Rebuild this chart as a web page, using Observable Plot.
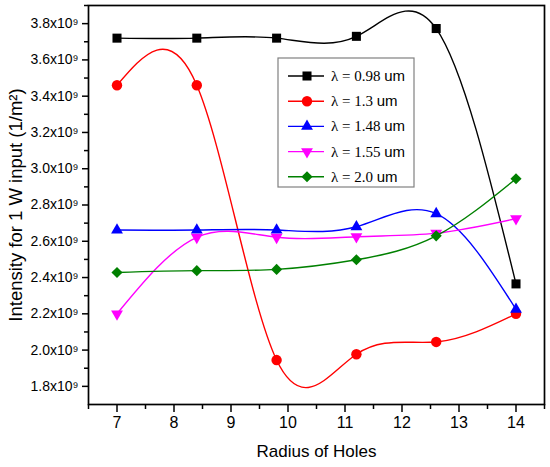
<!DOCTYPE html>
<html><head><meta charset="utf-8">
<script src="https://cdn.jsdelivr.net/npm/d3@7"></script>
<script src="https://cdn.jsdelivr.net/npm/@observablehq/plot@0.6"></script>
<style>body{margin:0;background:#fff}</style>
</head><body><div id="chart"></div>
<script>
// ---- data ----
const radius = [7, 8.4, 9.8, 11.2, 12.6, 14];
const lambda098 = [3.72, 3.72, 3.72, 3.73, 3.773, 2.365];
const lambda130 = [3.46, 3.46, 1.945, 1.977, 2.045, 2.20];
const lambda148 = [2.662, 2.662, 2.662, 2.68, 2.752, 2.225];
const lambda155 = [2.20, 2.622, 2.622, 2.625, 2.645, 2.725];
const lambda200 = [2.428, 2.438, 2.445, 2.498, 2.63, 2.945];
const seriesNames = ["λ = 0.98", "λ = 1.3", "λ = 1.48", "λ = 1.55", "λ = 2.0"];
const seriesUnit = "um";
const xTicks = [7, 8, 9, 10, 11, 12, 13, 14];
const xMinorTicks = [6.5, 7.5, 8.5, 9.5, 10.5, 11.5, 12.5, 13.5, 14.5];
const yTicks = [1.8, 2.0, 2.2, 2.4, 2.6, 2.8, 3.0, 3.2, 3.4, 3.6, 3.8];
const yMinorTicks = [1.9, 2.1, 2.3, 2.5, 2.7, 2.9, 3.1, 3.3, 3.5, 3.7, 3.9];
const xTitle = "Radius of Holes";
const yTitle = "Intensity for 1 W input (1/m²)";

// ---- styles ----
const triangleDown = {
  draw(context, size) {
    const s3 = Math.sqrt(3);
    const y = -Math.sqrt(size / (s3 * 3));
    context.moveTo(0, -y * 2);
    context.lineTo(-s3 * y, y);
    context.lineTo(s3 * y, y);
    context.closePath();
  }
};
const styles = [
  {color: "#000000", symbol: d3.symbolSquare, r: 5.1},
  {color: "#ff0000", symbol: d3.symbolCircle, r: 5.2},
  {color: "#0000ff", symbol: d3.symbolTriangle, r: 4.4},
  {color: "#ff00ff", symbol: triangleDown, r: 4.4},
  {color: "#008000", symbol: d3.symbolDiamond2, r: 5.0}
];
const allSeries = [lambda098, lambda130, lambda148, lambda155, lambda200];

const seriesMarks = [];
allSeries.forEach((vals, i) => {
  const rows = radius.map((x, j) => ({x, y: vals[j] * 1e9}));
  const st = styles[i];
  seriesMarks.push(Plot.line(rows, {x: "x", y: "y", curve: "natural", stroke: st.color, strokeWidth: 1.4}));
  seriesMarks.push(Plot.dot(rows, {x: "x", y: "y", symbol: st.symbol, r: st.r, fill: st.color, stroke: "none"}));
});

const fmt = d => (d / 1e9).toFixed(1) + "x10⁹";

const chart = Plot.plot({
  width: 550, height: 467,
  marginLeft: 88, marginRight: 6, marginTop: 5, marginBottom: 63,
  style: {fontFamily: "'Liberation Sans', Arial, sans-serif", background: "white", color: "black", overflow: "visible"},
  x: {domain: [6.5, 14.5]},
  y: {domain: [1.7e9, 3.9e9]},
  marks: [
    Plot.axisX(xTicks, {tickSize: 8, tickPadding: 4, fontSize: 16, strokeWidth: 1.5, label: null}),
    Plot.axisX(xMinorTicks, {tickSize: 5, tickFormat: () => "", strokeWidth: 1.5, label: null}),
    Plot.axisY(yTicks.map(v => v * 1e9), {tickSize: 6, tickPadding: 4, fontSize: 14, tickFormat: fmt, strokeWidth: 1.5, label: null}),
    Plot.axisY(yMinorTicks.map(v => v * 1e9), {tickSize: 4, tickFormat: () => "", strokeWidth: 1.5, label: null}),
    ...seriesMarks,
    Plot.frame({stroke: "black", strokeWidth: 1.7}),
    Plot.text([xTitle], {frameAnchor: "bottom", dy: 52, fontSize: 17}),
    Plot.text([yTitle], {frameAnchor: "left", textAnchor: "middle", dx: -72, rotate: -90, fontSize: 18.5})
  ]
});
document.getElementById("chart").appendChild(chart);

// ---- legend (inside plot, upper middle) ----
const svg = d3.select(chart);
const lg = svg.append("g").attr("text-anchor", "start");
lg.append("rect").attr("x", 278).attr("y", 58).attr("width", 136).attr("height", 129)
  .attr("fill", "white").attr("stroke", "#808080").attr("stroke-width", 1.2);
seriesNames.forEach((name, i) => {
  const cy = 76 + i * 25.2;
  const st = styles[i];
  lg.append("line").attr("x1", 288).attr("x2", 324).attr("y1", cy).attr("y2", cy)
    .attr("stroke", st.color).attr("stroke-width", 1.4);
  lg.append("path").attr("d", d3.symbol(st.symbol, st.r * st.r * Math.PI)())
    .attr("transform", `translate(307,${cy})`).attr("fill", st.color);
  const t = lg.append("text").attr("x", 331).attr("y", cy + 5).attr("text-anchor", "start")
    .attr("font-family", "'Liberation Serif', 'Times New Roman', serif").attr("font-size", 15).attr("fill", "black");
  t.append("tspan").text(name + " ");
  t.append("tspan").attr("font-family", "'Liberation Sans', Arial, sans-serif").text(seriesUnit);
});
</script>
</body></html>
